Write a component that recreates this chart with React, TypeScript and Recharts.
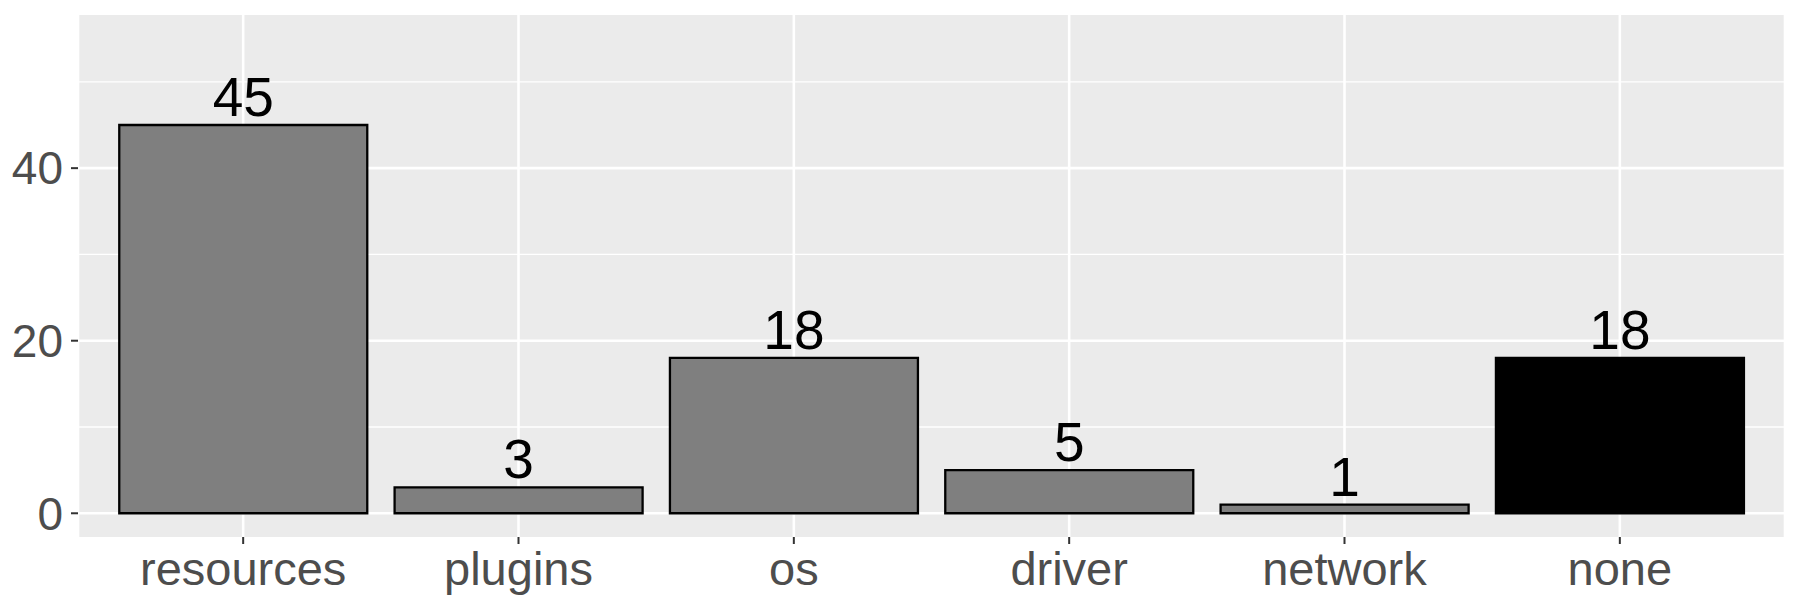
import React from "react";
import {
  BarChart,
  Bar,
  XAxis,
  YAxis,
  CartesianGrid,
  Cell,
  LabelList,
} from "recharts";

// failure causes and how often each was seen
const categories = ["resources", "plugins", "os", "driver", "network", "none"];
const counts = [45, 3, 18, 5, 1, 18];
const yTicks = [0, 20, 40];
const yMinorTicks = [10, 30, 50];
const highlighted = "none";

const data = categories.map((name, i) => ({ name, count: counts[i] }));

const FONT = "'Liberation Sans', Arial, Helvetica, sans-serif";

const App = () => {
  return (
    <div style={{ position: "absolute", left: 0, top: 0, background: "#fff" }}>
      <BarChart
        width={1800}
        height={600}
        data={data}
        margin={{ top: 15, right: 15, bottom: 0, left: 0 }}
        barCategoryGap="5%"
      >
        <CartesianGrid
          fill="#EBEBEB"
          stroke="#FFFFFF"
          strokeWidth={1.3}
          vertical={false}
          horizontalValues={yMinorTicks}
        />
        <CartesianGrid
          stroke="#FFFFFF"
          strokeWidth={2.6}
          horizontalValues={yTicks}
        />
        <XAxis
          dataKey="name"
          height={63}
          padding={{ left: 27.5, right: 27.5 }}
          axisLine={false}
          tickLine={{ stroke: "#333333", strokeWidth: 2 }}
          tickSize={7}
          tickMargin={8}
          tick={{ fill: "#4D4D4D", fontSize: 47, fontFamily: FONT }}
          interval={0}
        />
        <YAxis
          width={78}
          type="number"
          domain={[-2.75, 57.75]}
          ticks={yTicks}
          allowDataOverflow
          axisLine={false}
          tickLine={{ stroke: "#333333", strokeWidth: 2 }}
          tickSize={7}
          tickMargin={8}
          tick={{ fill: "#4D4D4D", fontSize: 46, fontFamily: FONT }}
        />
        <Bar
          dataKey="count"
          stroke="#000000"
          strokeWidth={2.3}
          isAnimationActive={false}
        >
          {data.map((d) => (
            <Cell
              key={d.name}
              fill={d.name === highlighted ? "#000000" : "#7F7F7F"}
            />
          ))}
          <LabelList
            dataKey="count"
            position="top"
            offset={9}
            fill="#000000"
            fontSize={55}
            fontFamily={FONT}
          />
        </Bar>
      </BarChart>
    </div>
  );
};

export default App;
